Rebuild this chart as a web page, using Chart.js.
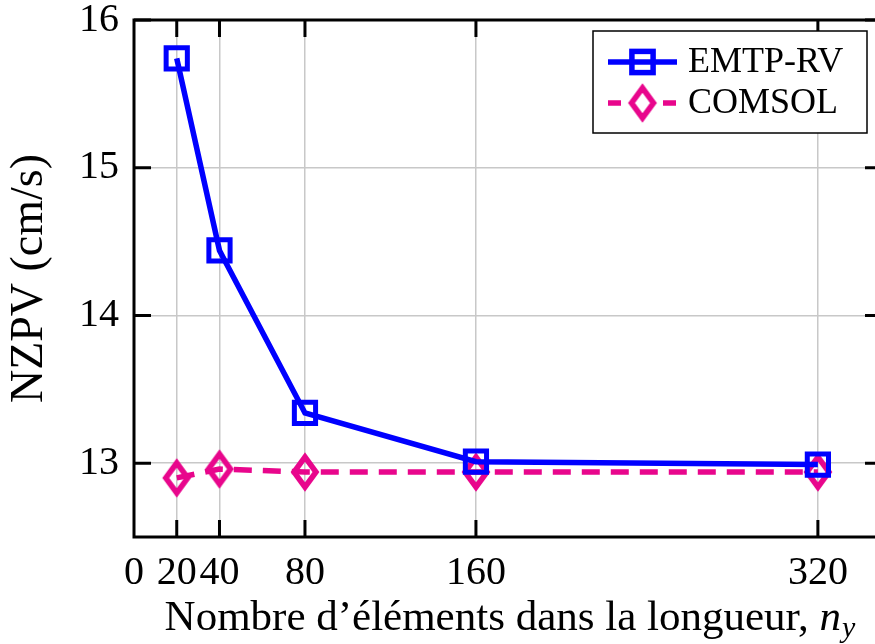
<!DOCTYPE html>
<html>
<head>
<meta charset="utf-8">
<script src="https://cdn.jsdelivr.net/npm/chart.js@4"></script>
<style>
html, body { margin: 0; padding: 0; background: #fff; overflow: hidden; }
</style>
</head>
<body>
<canvas id="nzpvChart" width="892" height="644"></canvas>
<script>
// Data
const elements = [20, 40, 80, 160, 320];
const emtpValues = [15.74, 14.44, 13.34, 13.01, 12.99];
const comsolValues = [12.90, 12.96, 12.94, 12.94, 12.94];
const xTicks = [0, 20, 40, 80, 160, 320];
const yTicks = [13, 14, 15, 16];
const seriesLabels = ['EMTP-RV', 'COMSOL'];

const BLUE = '#0000ff';
const MAGENTA = '#e8068c';
const FONT = "'Liberation Serif', 'Times New Roman', serif";
const LINE_W = 5.5;

// Tall diamond marker (pgfplots style)
function makeDiamond() {
    const c = document.createElement('canvas');
    c.width = 36;
    c.height = 48;
    const g = c.getContext('2d');
    g.strokeStyle = MAGENTA;
    g.lineWidth = 5.5;
    g.beginPath();
    g.moveTo(18, 24 - 15);
    g.lineTo(18 + 11, 24);
    g.lineTo(18, 24 + 15);
    g.lineTo(18 - 11, 24);
    g.closePath();
    g.stroke();
    return c;
}
const diamond = makeDiamond();

function toPoints(values) {
    return elements.map((x, i) => ({ x: x, y: values[i] }));
}

// Frame, inward ticks, legend and x title
const decorPlugin = {
    id: 'decor',
    afterDraw(chart) {
        const ctx = chart.ctx;
        const a = chart.chartArea;
        const xs = chart.scales.x;
        const ys = chart.scales.y;
        const tick = 17;

        ctx.save();
        ctx.strokeStyle = '#000';
        ctx.lineWidth = 3;
        ctx.strokeRect(a.left, a.top, a.right - a.left, a.bottom - a.top);

        ctx.beginPath();
        xTicks.forEach(v => {
            if (v === 0) return;
            const px = xs.getPixelForValue(v);
            ctx.moveTo(px, a.bottom);
            ctx.lineTo(px, a.bottom - tick);
            ctx.moveTo(px, a.top);
            ctx.lineTo(px, a.top + tick);
        });
        yTicks.forEach(v => {
            const py = ys.getPixelForValue(v);
            ctx.moveTo(a.left, py);
            ctx.lineTo(a.left + tick, py);
            ctx.moveTo(a.right, py);
            ctx.lineTo(a.right - tick, py);
        });
        ctx.stroke();

        // Legend box
        const lw = 274, lh = 102;
        const lx = a.right - 15 - lw;
        const ly = a.top + 11;
        ctx.fillStyle = '#fff';
        ctx.fillRect(lx, ly, lw, lh);
        ctx.lineWidth = 1.5;
        ctx.strokeRect(lx, ly, lw, lh);

        const rows = [ly + 31, ly + 72];
        const sx0 = lx + 15, sx1 = lx + 84, sc = (sx0 + sx1) / 2;

        // EMTP-RV sample
        ctx.strokeStyle = BLUE;
        ctx.lineWidth = LINE_W;
        ctx.beginPath();
        ctx.moveTo(sx0, rows[0]);
        ctx.lineTo(sx1, rows[0]);
        ctx.stroke();
        ctx.strokeRect(sc - 10.6, rows[0] - 10.6, 21.2, 21.2);

        // COMSOL sample
        ctx.strokeStyle = MAGENTA;
        ctx.setLineDash([13, 42]);
        ctx.beginPath();
        ctx.moveTo(sx0, rows[1]);
        ctx.lineTo(sx1, rows[1]);
        ctx.stroke();
        ctx.setLineDash([]);
        ctx.drawImage(diamond, sc - diamond.width / 2, rows[1] - diamond.height / 2);

        ctx.fillStyle = '#000';
        ctx.font = '36px ' + FONT;
        ctx.textBaseline = 'middle';
        ctx.textAlign = 'left';
        seriesLabels.forEach((t, i) => ctx.fillText(t, lx + 95, rows[i] + 1));

        // x axis title with italic n_y
        const main = 'Nombre d\u2019\u00e9l\u00e9ments dans la longueur, ';
        const mainFont = '43px ' + FONT;
        const nFont = 'italic 43px ' + FONT;
        const subFont = 'italic 30px ' + FONT;
        ctx.font = mainFont;
        const w1 = ctx.measureText(main).width;
        ctx.font = nFont;
        const w2 = ctx.measureText('n').width;
        ctx.font = subFont;
        const w3 = ctx.measureText('y').width;
        const total = w1 + w2 + w3 + 1;
        let x0 = (a.left + a.right) / 2 - total / 2 + 2;
        const base = 630;
        ctx.textBaseline = 'alphabetic';
        ctx.font = mainFont;
        ctx.fillText(main, x0, base);
        ctx.font = nFont;
        ctx.fillText('n', x0 + w1, base);
        ctx.font = subFont;
        ctx.fillText('y', x0 + w1 + w2 + 1, base + 7);
        ctx.restore();
    }
};

const ctx = document.getElementById('nzpvChart');
new Chart(ctx, {
    type: 'line',
    data: {
        datasets: [
            {
                label: seriesLabels[0],
                data: toPoints(emtpValues),
                borderColor: BLUE,
                borderWidth: LINE_W,
                pointStyle: 'rect',
                pointRadius: 15,
                pointBorderWidth: 5,
                pointBorderColor: BLUE,
                pointBackgroundColor: 'rgba(0,0,0,0)',
                tension: 0
            },
            {
                label: seriesLabels[1],
                data: toPoints(comsolValues),
                borderColor: MAGENTA,
                borderWidth: LINE_W,
                borderDash: [18, 11],
                pointStyle: diamond,
                pointRadius: 15,
                tension: 0
            }
        ]
    },
    options: {
        responsive: false,
        animation: false,
        events: [],
        layout: { autoPadding: false, padding: { left: 0, top: 20, right: 10, bottom: 0 } },
        plugins: {
            legend: { display: false },
            tooltip: { enabled: false }
        },
        scales: {
            x: {
                type: 'linear',
                min: 0,
                max: 350,
                afterBuildTicks: s => { s.ticks = xTicks.map(v => ({ value: v })); },
                afterFit: s => {
                    s.height = 107;
                    s.paddingLeft = 0;
                    s.paddingRight = 0;
                },
                ticks: {
                    color: '#000',
                    font: { family: FONT, size: 40, lineHeight: 1 },
                    padding: 16,
                    autoSkip: false,
                    maxRotation: 0,
                    callback: v => String(v)
                },
                grid: { color: '#c8c8c8', lineWidth: 1.5, drawTicks: false },
                border: { display: false }
            },
            y: {
                min: 12.5,
                max: 16,
                afterBuildTicks: s => { s.ticks = yTicks.map(v => ({ value: v })); },
                afterFit: s => {
                    s.width = 134;
                    s.paddingTop = 0;
                    s.paddingBottom = 0;
                },
                ticks: {
                    color: '#000',
                    font: { family: FONT, size: 40, lineHeight: 1 },
                    padding: 15,
                    callback: v => String(v)
                },
                grid: { color: '#c8c8c8', lineWidth: 1.5, drawTicks: false },
                border: { display: false },
                title: {
                    display: true,
                    text: 'NZPV (cm/s)',
                    color: '#000',
                    font: { family: FONT, size: 46, lineHeight: 1.2 },
                    padding: { top: 2, bottom: 0 }
                }
            }
        }
    },
    plugins: [decorPlugin]
});
</script>
</body>
</html>
